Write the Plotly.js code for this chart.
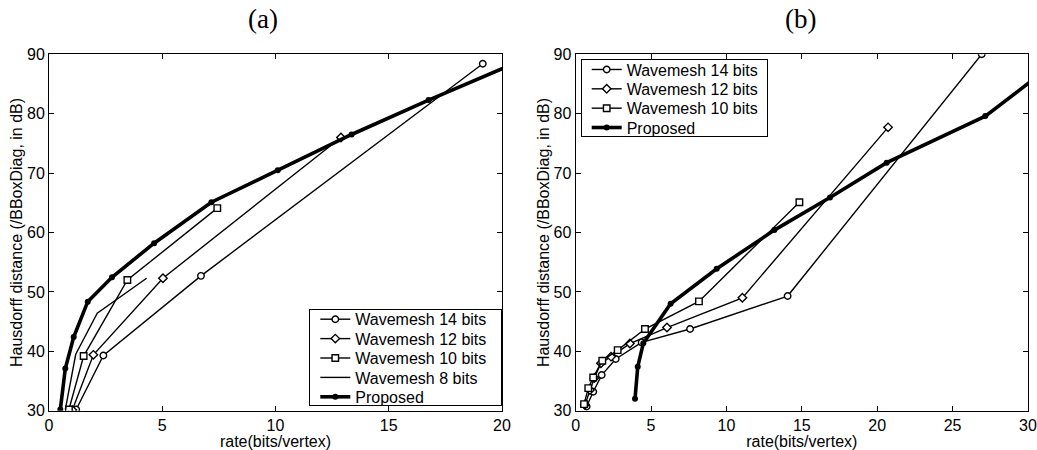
<!DOCTYPE html>
<html>
<head>
<meta charset="utf-8">
<script src="https://cdn.plot.ly/plotly-3.0.1.min.js"></script>
<style>html,body{margin:0;padding:0;background:#fff;}#chart{width:1037px;height:450px;}</style>
</head>
<body>
<div id="chart"></div>
<script>
// Panel (a)
const a_w14_x = [1.20, 2.40, 6.71, 19.15];
const a_w14_y = [30.2, 39.3, 52.7, 88.4];
const a_w12_x = [1.03, 1.96, 5.03, 12.89];
const a_w12_y = [30.1, 39.4, 52.3, 76.0];
const a_w10_x = [0.88, 1.53, 3.46, 7.43];
const a_w10_y = [30.2, 39.2, 52.0, 64.1];
const a_w8_x = [0.72, 1.18, 2.13, 4.31];
const a_w8_y = [30.2, 39.5, 46.4, 52.3];
const a_prop_x = [0.50, 0.72, 1.09, 1.71, 2.78, 4.64, 7.17, 10.1, 13.36, 16.76, 21.3];
const a_prop_y = [30.2, 37.1, 42.4, 48.35, 52.46, 58.2, 65.1, 70.5, 76.5, 82.3, 89.7];
// Panel (b)
const b_w14_x = [0.73, 1.17, 1.73, 2.66, 4.38, 7.59, 14.06, 26.93];
const b_w14_y = [30.7, 33.2, 36.0, 38.7, 41.5, 43.75, 49.3, 90.0];
const b_w12_x = [0.62, 0.95, 1.24, 1.68, 2.35, 3.6, 6.06, 11.06, 20.72];
const b_w12_y = [31.0, 33.5, 35.5, 38.0, 39.1, 41.3, 44.0, 49.0, 77.7];
const b_w10_x = [0.56, 0.84, 1.17, 1.77, 2.79, 4.6, 8.18, 14.84];
const b_w10_y = [31.1, 33.8, 35.6, 38.4, 40.2, 43.75, 48.4, 65.1];
const b_prop_x = [3.94, 4.12, 4.49, 6.30, 9.36, 13.18, 16.87, 20.63, 27.17, 31.0];
const b_prop_y = [32.0, 37.4, 41.35, 48.0, 53.9, 60.4, 65.9, 71.75, 79.6, 87.0];

const names = ["Wavemesh 14 bits", "Wavemesh 12 bits", "Wavemesh 10 bits", "Wavemesh 8 bits", "Proposed"];
const panelTitles = ["(a)", "(b)"];
const xTitleText = "rate(bits/vertex)";
const yTitleText = "Hausdorff distance (/BBoxDiag, in dB)";

const FONT = 'Liberation Sans, Arial, Helvetica, sans-serif';

function thin(x, y, name, sym, xa, ya, leg) {
  return {x: x, y: y, name: name, xaxis: xa, yaxis: ya, legend: leg,
    type: 'scatter', mode: sym ? 'lines+markers' : 'lines',
    line: {color: '#000', width: 1.4},
    marker: {symbol: sym || 'circle', size: 6.5, color: '#fff', line: {color: '#000', width: 1.4}},
    cliponaxis: true};
}
function thick(x, y, name, xa, ya, leg) {
  return {x: x, y: y, name: name, xaxis: xa, yaxis: ya, legend: leg,
    type: 'scatter', mode: 'lines+markers',
    line: {color: '#000', width: 3.6},
    marker: {symbol: 'circle', size: 6, color: '#000'},
    cliponaxis: true};
}

const data = [
  thin(a_w14_x, a_w14_y, names[0], 'circle', 'x', 'y', 'legend'),
  thin(a_w12_x, a_w12_y, names[1], 'diamond', 'x', 'y', 'legend'),
  thin(a_w10_x, a_w10_y, names[2], 'square', 'x', 'y', 'legend'),
  thin(a_w8_x, a_w8_y, names[3], null, 'x', 'y', 'legend'),
  thick(a_prop_x, a_prop_y, names[4], 'x', 'y', 'legend'),
  thin(b_w14_x, b_w14_y, names[0], 'circle', 'x2', 'y2', 'legend2'),
  thin(b_w12_x, b_w12_y, names[1], 'diamond', 'x2', 'y2', 'legend2'),
  thin(b_w10_x, b_w10_y, names[2], 'square', 'x2', 'y2', 'legend2'),
  thick(b_prop_x, b_prop_y, names[4], 'x2', 'y2', 'legend2')
];

const W = 1037, H = 450;
const axisCommon = {
  showline: true, linecolor: '#000', linewidth: 1, mirror: 'allticks',
  ticks: 'inside', ticklen: 5, tickcolor: '#000', tickwidth: 1,
  showgrid: false, zeroline: false,
  tickfont: {family: FONT, size: 16, color: '#000'}
};
const yTitle = {text: yTitleText, font: {family: FONT, size: 16, color: '#000'}, standoff: 0};
const xTitle = {text: xTitleText, font: {family: FONT, size: 16, color: '#000'}, standoff: 0};

const legendCommon = {
  bgcolor: '#fff', bordercolor: '#000', borderwidth: 1,
  font: {family: FONT, size: 16, color: '#000'},
  tracegroupgap: 0, itemwidth: 30
};

const layout = {
  width: W, height: H,
  margin: {l: 0, r: 0, t: 0, b: 0},
  paper_bgcolor: '#fff', plot_bgcolor: '#fff',
  showlegend: true,
  xaxis: Object.assign({}, axisCommon, {domain: [49/W, 502/W], range: [0, 20], dtick: 5, tick0: 0, anchor: 'y', title: xTitle}),
  yaxis: Object.assign({}, axisCommon, {domain: [39.3/H, 395.7/H], range: [30, 90], dtick: 10, tick0: 30, anchor: 'x', title: yTitle}),
  xaxis2: Object.assign({}, axisCommon, {domain: [575.6/W, 1028/W], range: [0, 30], dtick: 5, tick0: 0, anchor: 'y2', title: xTitle}),
  yaxis2: Object.assign({}, axisCommon, {domain: [39.3/H, 395.7/H], range: [30, 90], dtick: 10, tick0: 30, anchor: 'x2', title: yTitle}),
  legend: Object.assign({}, legendCommon, {x: 502/W, xanchor: 'right', y: (H-406)/H, yanchor: 'bottom'}),
  legend2: Object.assign({}, legendCommon, {x: 580.7/W, xanchor: 'left', y: (H-59.3)/H, yanchor: 'top'}),
  annotations: [
    {text: panelTitles[0], x: 263/W, y: 1 - 19/H, xref: 'paper', yref: 'paper', xanchor: 'center', yanchor: 'middle', showarrow: false,
      font: {family: 'Liberation Serif, DejaVu Serif, serif', size: 27, color: '#000'}},
    {text: panelTitles[1], x: 800/W, y: 1 - 19/H, xref: 'paper', yref: 'paper', xanchor: 'center', yanchor: 'middle', showarrow: false,
      font: {family: 'Liberation Serif, DejaVu Serif, serif', size: 27, color: '#000'}}
  ]
};

// Tighten legend rows to the compact spacing of the reference figure
function compactLegend(gd, cls, left, top, w, h, n) {
  const g = gd.querySelector('g.' + cls);
  if (!g) return;
  const step = h / n;
  g.setAttribute('transform', 'translate(' + left + ',' + top + ')');
  const bg = g.querySelector('rect.bg');
  if (bg) {
    bg.setAttribute('x', 0.5); bg.setAttribute('y', 0.5);
    bg.setAttribute('width', w - 1); bg.setAttribute('height', h - 1);
  }
  const sb = g.querySelector('g.scrollbox');
  if (sb) { sb.removeAttribute('clip-path'); sb.setAttribute('transform', 'translate(0,0)'); }
  const items = g.querySelectorAll('g.traces');
  items.forEach((it, i) => {
    it.setAttribute('transform', 'translate(6,' + (step / 2 + 0.5 + i * step) + ')');
  });
  const sbar = g.querySelector('rect.scrollbar');
  if (sbar) sbar.remove();
}

Plotly.newPlot('chart', data, layout, {displayModeBar: false, staticPlot: true}).then(gd => {
  try {
    compactLegend(gd, 'legend', 309.3, 309, 193, 97, 5);
    compactLegend(gd, 'legend2', 580.7, 59.3, 187, 77.4, 4);
  } catch (e) { console.log(e); }
});
</script>
</body>
</html>
